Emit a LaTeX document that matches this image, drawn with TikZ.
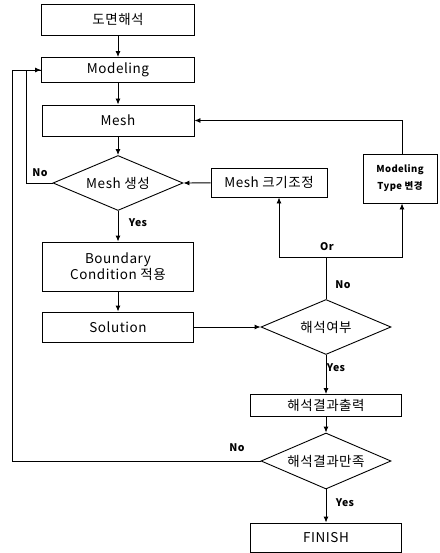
\documentclass[tikz,border=0pt]{standalone}
\usepackage{fontspec}
\setmainfont[LetterSpace=4]{Noto Sans CJK KR}
\usetikzlibrary{shapes.geometric,arrows.meta}
\begin{document}
\begin{tikzpicture}[x=1pt,y=-1pt,
  line width=0.9pt,
  box/.style={draw,rectangle,inner sep=0pt,align=center,font=\fontsize{13.5}{16}\selectfont},
  dia/.style={draw,diamond,inner sep=0pt,aspect=2.35,minimum width=130pt,minimum height=55pt,font=\fontsize{13.5}{16}\selectfont},
  arr/.style={-{Latex[length=6pt,width=5pt]}},
  lbl/.style={font=\fontsize{10.5}{12}\selectfont\bfseries,inner sep=0pt}]
\useasboundingbox (0,0) rectangle (439,553);
\node[box,minimum width=153pt,minimum height=31pt] (d1) at (118,19.5) {도면해석};
\node[box,minimum width=153pt,minimum height=25pt] (mod) at (118,70) {Modeling};
\node[box,minimum width=152pt,minimum height=31pt] (mesh) at (118,120.5) {Mesh};
\node[dia] (dia1) at (118,183) {Mesh 생성};
\node[box,minimum width=151pt,minimum height=49pt] (bc) at (118,266.5) {Boundary\\Condition 적용};
\node[box,minimum width=151pt,minimum height=30pt] (sol) at (118,327) {Solution};
\node[box,minimum width=116pt,minimum height=29pt] (msz) at (269,182.5) {Mesh 크기조정};
\node[box,minimum width=74pt,minimum height=49pt,font=\fontsize{9.5}{17}\selectfont\bfseries] (mtype) at (400,178.5) {Modeling\\Type 변경};
\node[dia] (dia2) at (326,327) {해석여부};
\node[box,minimum width=151pt,minimum height=22pt] (out) at (326,405.5) {해석결과출력};
\node[dia,minimum height=56pt] (dia3) at (326,461) {해석결과만족};
\node[box,minimum width=151pt,minimum height=29pt] (fin) at (326,537.5) {FINISH};

\draw[arr] (d1) -- (mod);
\draw[arr] (mod) -- (mesh);
\draw[arr] (mesh) -- (dia1);
\draw[arr] (dia1) -- (bc);
\draw[arr] (bc) -- (sol);
\draw[arr] (sol) -- (dia2);
\draw[arr] (dia2) -- (out);
\draw[arr] (out) -- (dia3);
\draw[arr] (dia3) -- (fin);
\draw[arr] (msz) -- (dia1.east);

\coordinate (l1) at (26,183);
\coordinate (l2) at (12,461);
\draw[arr] (dia1.west) -- (l1) |- (mod.west);
\draw (dia3.west) -- (l2) |- (mod.west);

\coordinate (orj) at (326,257);
\coordinate (ora) at (279,257);
\coordinate (orb) at (402,257);
\draw (dia2.north) -- (orj);
\draw[arr] (orj) -- (ora) -- (ora |- msz.south);
\draw[arr] (orj) -- (orb) -- (orb |- mtype.south);
\coordinate (mt) at (402,120.5);
\draw[arr] (mtype.north -| mt) -- (mt) -- (mesh.east);

\node[lbl] (n1) at (40,173) {No};
\node[lbl] (y1) at (138,223) {Yes};
\node[lbl] (or) at (327,247) {Or};
\node[lbl] (n2) at (343,285) {No};
\node[lbl] (y2) at (336,368) {Yes};
\node[lbl] (n3) at (237,448) {No};
\node[lbl] (y3) at (345,503) {Yes};
\end{tikzpicture}
\end{document}
